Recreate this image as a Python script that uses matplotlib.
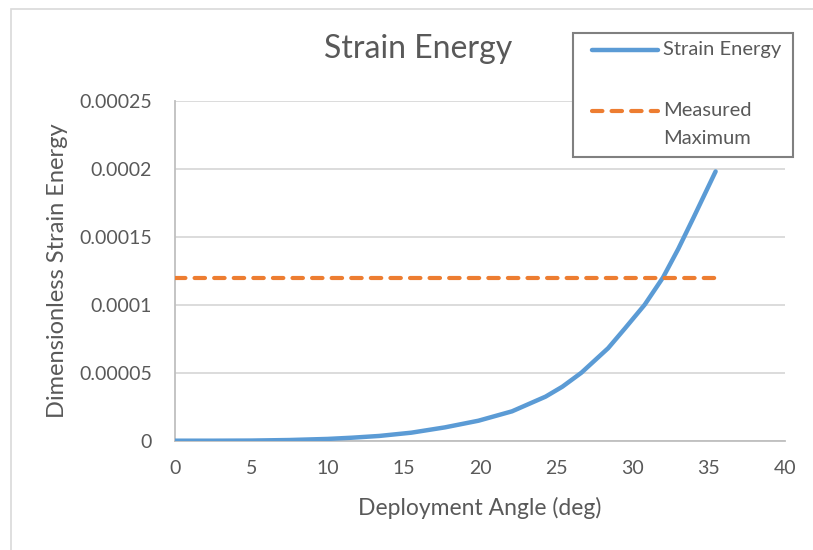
import matplotlib
matplotlib.use("Agg")
import matplotlib.pyplot as plt
from matplotlib.lines import Line2D
from matplotlib.patches import Rectangle

# values
angle = [0, 2.5, 5, 7.5, 10, 11.6, 13.4, 15.5, 17.7, 19.9, 22.1, 24.3, 25.4, 26.65,
         28.4, 29.5, 30.8, 32.0, 33.0, 34.0, 35.45]
energy = [0, 0.0, 0.01e-5, 0.05e-5, 0.13e-5, 0.22e-5, 0.35e-5, 0.59e-5, 0.98e-5, 1.47e-5,
          2.16e-5, 3.24e-5, 3.97e-5, 5.0e-5, 6.8e-5, 8.25e-5, 10.0e-5, 12.0e-5, 14.1e-5,
          16.4e-5, 19.8e-5]
measured_max = 0.00012

x_ticks = [0, 5, 10, 15, 20, 25, 30, 35, 40]
y_ticks = [0, 0.00005, 0.0001, 0.00015, 0.0002, 0.00025]
y_tick_labels = ["0", "0.00005", "0.0001", "0.00015", "0.0002", "0.00025"]

blue = "#5B9BD5"
orange = "#ED7D31"
txt = "#595959"

plt.rcParams['font.family'] = ['Lato', 'DejaVu Sans']

W, H = 813, 550
fig = plt.figure(figsize=(W / 100, H / 100), dpi=100)
ax = fig.add_axes([175 / W, 1 - 440.7 / H, (785 - 175) / W, 340 / H])

ax.plot(angle, energy, color=blue, lw=3.2, solid_capstyle="round", solid_joinstyle="round", zorder=3)
ax.plot([angle[0], angle[-1]], [measured_max, measured_max], color=orange, lw=3,
        linestyle=(0, (2.5, 2.2)), dash_capstyle="round", zorder=3)

ax.set_xlim(0, 40)
ax.set_ylim(0, 0.00025)
ax.set_xticks(x_ticks)
ax.set_yticks(y_ticks)
ax.set_yticklabels(y_tick_labels)
ax.tick_params(length=0, labelsize=14, colors=txt)
ax.tick_params(axis="x", pad=14)
ax.tick_params(axis="y", pad=16.5)
ax.grid(axis="y", color="#d9d9d9", lw=1.3)
ax.set_axisbelow(True)
for s in ["top", "right"]:
    ax.spines[s].set_visible(False)
for s in ["left", "bottom"]:
    ax.spines[s].set_color("#bfbfbf")
    ax.spines[s].set_linewidth(1.3)

ax.set_xlabel("Deployment Angle (deg)", fontsize=16.5, color=txt, labelpad=14)
ax.set_ylabel("Dimensionless Strain Energy", fontsize=17, color=txt, labelpad=8)
fig.text(418 / W, 1 - 49 / H, "Strain Energy", fontsize=23, color=txt, ha="center", va="center")

# outer chart border
fig.add_artist(Rectangle((11 / W, -0.1), 1.2, 1 - 9 / H + 0.1, transform=fig.transFigure,
                         fill=False, edgecolor="#d9d9d9", lw=1.2))

# legend box, drawn by hand so the handle sits on the first text line
fig.add_artist(Rectangle((573 / W, 1 - 157 / H), 220 / W, 124 / H, transform=fig.transFigure,
                         facecolor="white", edgecolor="#808080", lw=1.5, zorder=5))
fig.add_artist(Line2D([592 / W, 658 / W], [1 - 50 / H, 1 - 50 / H], transform=fig.transFigure,
                      color=blue, lw=3.2, solid_capstyle="round", zorder=6))
fig.add_artist(Line2D([592 / W, 658 / W], [1 - 111 / H, 1 - 111 / H], transform=fig.transFigure,
                      color=orange, lw=3, linestyle=(0, (2.5, 2.2)), dash_capstyle="round", zorder=6))
fig.text(663 / W, 1 - 50 / H, "Strain Energy", fontsize=14.5, color=txt, va="center", zorder=7)
fig.text(663 / W, 1 - 111 / H, "Measured", fontsize=14.5, color=txt, va="center", zorder=7)
fig.text(663 / W, 1 - 138 / H, "Maximum", fontsize=14.5, color=txt, va="center", zorder=7)

fig.savefig("out.png", dpi=100)
